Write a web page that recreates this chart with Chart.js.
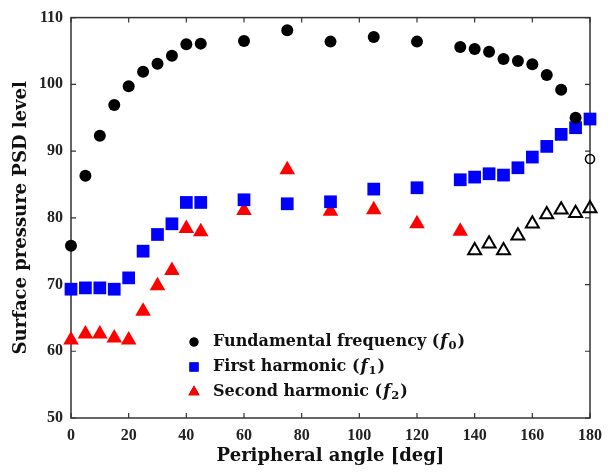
<!DOCTYPE html>
<html>
<head>
<meta charset="utf-8">
<script src="https://cdn.jsdelivr.net/npm/chart.js@4.4.0/dist/chart.umd.min.js"></script>
<style>
  html, body { margin: 0; padding: 0; background: #fff; }
</style>
</head>
<body>
<canvas id="myChart" width="610" height="474"></canvas>
<script>
// peripheral angles [deg]
const angles = [0,5,10,15,20,25,30,35,40,45,60,75,90,105,120,135,140,145,150,155,160,165,170,175];
const fundamental = [75.8,86.3,92.3,96.9,99.7,101.9,103.1,104.3,106.0,106.1,106.5,108.1,106.4,107.1,106.4,105.6,105.3,104.9,103.8,103.5,103.0,101.4,99.2,95.0];
const fundamentalOpenAngles = [180];
const fundamentalOpen = [88.8];

const firstAngles = [0,5,10,15,20,25,30,35,40,45,60,75,90,105,120,135,140,145,150,155,160,165,170,175,180];
const firstHarmonic = [69.3,69.5,69.5,69.3,71.0,75.0,77.5,79.1,82.3,82.3,82.7,82.1,82.4,84.3,84.5,85.7,86.1,86.6,86.4,87.5,89.1,90.7,92.5,93.5,94.8];

const secondAngles = [0,5,10,15,20,25,30,35,40,45,60,75,90,105,120,135];
const secondHarmonic = [61.7,62.6,62.6,62.0,61.7,66.0,69.8,72.1,78.4,77.9,81.1,87.2,81.0,81.2,79.1,78.0];
const secondOpenAngles = [140,145,150,155,160,165,170,175,180];
const secondOpen = [75.1,76.1,75.1,77.3,79.1,80.5,81.2,80.7,81.4];

const xTicks = [0,20,40,60,80,100,120,140,160,180];
const yTicks = [50,60,70,80,90,100,110];

const legendRows = [
  { name: 'Fundamental frequency (', sub: '0', ds: 0 },
  { name: 'First harmonic (', sub: '1', ds: 2 },
  { name: 'Second harmonic (', sub: '2', ds: 3 }
];

const toXY = (xs, ys) => xs.map((x, i) => ({ x: x, y: ys[i] }));

const SERIF = '"Liberation Serif", "DejaVu Serif", serif';
const WIDE = '"DejaVu Serif", serif';

const framePlugin = {
  id: 'frame',
  beforeDatasetsDraw(chart) {
    const { ctx, chartArea: a, scales } = chart;
    ctx.save();
    ctx.strokeStyle = '#333';
    ctx.lineWidth = 1.5;
    ctx.strokeRect(a.left, a.top, a.right - a.left, a.bottom - a.top);
    ctx.lineWidth = 1.2;
    ctx.beginPath();
    scales.x.ticks.forEach(t => {
      const px = scales.x.getPixelForValue(t.value);
      ctx.moveTo(px, a.bottom); ctx.lineTo(px, a.bottom - 5);
      ctx.moveTo(px, a.top); ctx.lineTo(px, a.top + 5);
    });
    scales.y.ticks.forEach(t => {
      const py = scales.y.getPixelForValue(t.value);
      ctx.moveTo(a.left, py); ctx.lineTo(a.left + 5, py);
      ctx.moveTo(a.right, py); ctx.lineTo(a.right - 5, py);
    });
    ctx.stroke();
    ctx.restore();
  },
  afterDatasetsDraw(chart) {
    const { ctx } = chart;
    const x0 = 194, tx = 213;
    const rowY = [342, 367, 392];
    const sizes = [4.5, 6.5, 6.5];
    ctx.save();
    legendRows.forEach((row, i) => {
      const ds = chart.data.datasets[row.ds];
      Chart.helpers.drawPoint(ctx, {
        pointStyle: ds.pointStyle,
        radius: sizes[i],
        borderWidth: 0,
        rotation: 0
      }, x0, rowY[i]);
      ctx.fillStyle = ds.backgroundColor;
      ctx.fill();
      ctx.fillStyle = '#111';
      ctx.textBaseline = 'middle';
      ctx.font = 'bold 16px ' + WIDE;
      ctx.fillText(row.name, tx, rowY[i]);
      let w = tx + ctx.measureText(row.name).width + 1;
      ctx.font = 'bold italic 16.5px ' + WIDE;
      ctx.fillText('f', w, rowY[i]);
      w += ctx.measureText('f').width + 1;
      ctx.font = 'bold 11.5px ' + WIDE;
      ctx.fillText(row.sub, w, rowY[i] + 4);
      w += ctx.measureText(row.sub).width + 1;
      ctx.font = 'bold 16px ' + WIDE;
      ctx.fillText(')', w, rowY[i]);
    });
    ctx.restore();
  }
};

new Chart(document.getElementById('myChart'), {
  type: 'scatter',
  data: {
    datasets: [
      {
        label: 'Fundamental frequency',
        data: toXY(angles, fundamental),
        pointStyle: 'circle',
        pointRadius: 6,
        backgroundColor: '#000',
        borderColor: '#000',
        borderWidth: 0,
        clip: false
      },
      {
        label: 'Fundamental (open)',
        data: toXY(fundamentalOpenAngles, fundamentalOpen),
        pointStyle: 'circle',
        pointRadius: 4.5,
        backgroundColor: 'rgba(255,255,255,0)',
        borderColor: '#000',
        borderWidth: 1.6,
        clip: false
      },
      {
        label: 'First harmonic',
        data: toXY(firstAngles, firstHarmonic),
        pointStyle: 'rect',
        pointRadius: 9,
        backgroundColor: '#0000ff',
        borderColor: '#0000ff',
        borderWidth: 0,
        clip: false
      },
      {
        label: 'Second harmonic',
        data: toXY(secondAngles, secondHarmonic),
        pointStyle: 'triangle',
        pointRadius: 9,
        backgroundColor: '#ff0000',
        borderColor: '#ff0000',
        borderWidth: 0,
        clip: false
      },
      {
        label: 'Second harmonic (open)',
        data: toXY(secondOpenAngles, secondOpen),
        pointStyle: 'triangle',
        pointRadius: 7.5,
        backgroundColor: 'rgba(255,255,255,0)',
        borderColor: '#000',
        borderWidth: 2,
        clip: false
      }
    ]
  },
  options: {
    responsive: false,
    animation: false,
    layout: { padding: { top: 15, right: 14, bottom: 0, left: 0 } },
    plugins: {
      legend: { display: false },
      tooltip: { enabled: false }
    },
    scales: {
      x: {
        type: 'linear',
        min: 0,
        max: 180,
        afterBuildTicks: s => { s.ticks = xTicks.map(v => ({ value: v })); },
        afterFit: s => { s.height = 56; },
        grid: { display: false, drawTicks: false },
        border: { display: false },
        ticks: { color: '#222', padding: 8, font: { family: SERIF, size: 16, weight: 'bold' } },
        title: {
          display: true,
          text: 'Peripheral angle [deg]',
          color: '#111',
          padding: { top: 0, bottom: 7 },
          font: { family: WIDE, size: 18, weight: 'bold' }
        }
      },
      y: {
        type: 'linear',
        min: 50,
        max: 110,
        afterBuildTicks: s => { s.ticks = yTicks.map(v => ({ value: v })); },
        afterFit: s => { s.width = 71; },
        grid: { display: false, drawTicks: false },
        border: { display: false },
        ticks: { color: '#222', padding: 8, font: { family: SERIF, size: 16, weight: 'bold' } },
        title: {
          display: true,
          text: 'Surface pressure PSD level',
          color: '#111',
          padding: { top: 11, bottom: 0 },
          font: { family: WIDE, size: 18, weight: 'bold' }
        }
      }
    }
  },
  plugins: [framePlugin]
});
</script>
</body>
</html>
